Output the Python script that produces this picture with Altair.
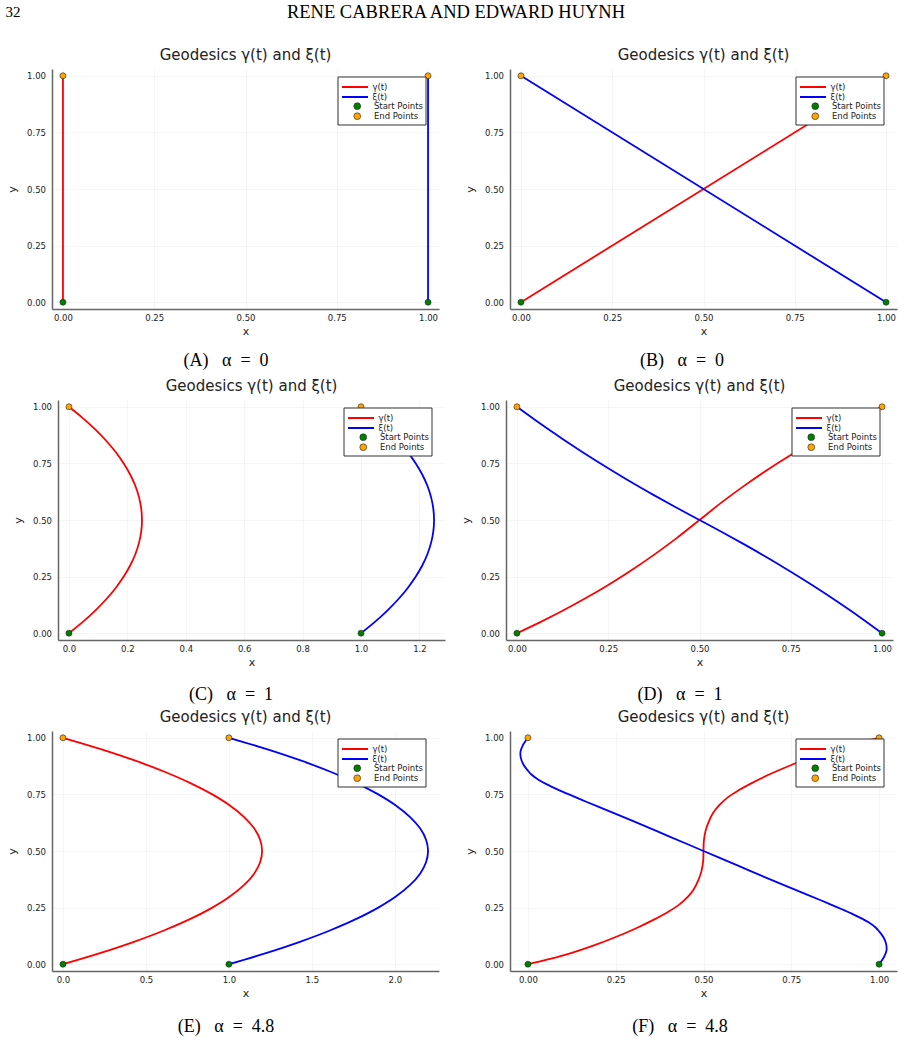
import altair as alt
import pandas as pd

# ---------------- text ----------------
HEADER_PAGE = "32"
HEADER_TITLE = "RENE CABRERA AND EDWARD HUYNH"
PANEL_TITLE = "Geodesics γ(t) and ξ(t)"
LINE_NAMES = ["γ(t)", "ξ(t)"]
LINE_COLORS = ["#ff0000", "#0000ff"]
POINT_NAMES = ["Start Points", "End Points"]
POINT_COLORS = ["#008000", "#ffa500"]
CAPTIONS = ["(A)\u2002\u2005α\u2002=\u20020", "(B)\u2002\u2005α\u2002=\u20020",
            "(C)\u2002\u2005α\u2002=\u20021", "(D)\u2002\u2005α\u2002=\u20021",
            "(E)\u2002\u2005α\u2002=\u20024.8", "(F)\u2002\u2005α\u2002=\u20024.8"]

# ---------------- ticks ----------------
Y_TICKS = [0.0, 0.25, 0.5, 0.75, 1.0]
X_TICKS_UNIT = [0.0, 0.25, 0.5, 0.75, 1.0]
X_TICKS_C = [0.0, 0.2, 0.4, 0.6, 0.8, 1.0, 1.2]
X_TICKS_E = [0.0, 0.5, 1.0, 1.5, 2.0]

# ---------------- panel A ----------------
a_gamma_x = [0.0, 0.0]
a_gamma_y = [0.0, 1.0]
a_xi_x = [1.0, 1.0]
a_xi_y = [0.0, 1.0]

# ---------------- panel B ----------------
b_gamma_x = [0.0, 1.0]
b_gamma_y = [0.0, 1.0]
b_xi_x = [1.0, 0.0]
b_xi_y = [0.0, 1.0]

# ---------------- panel C ----------------
c_t = [0.0, 0.05, 0.1, 0.15, 0.2, 0.25, 0.3, 0.35, 0.4, 0.45, 0.5,
       0.55, 0.6, 0.65, 0.7, 0.75, 0.8, 0.85, 0.9, 0.95, 1.0]
c_gamma_x = [0.0, 0.0475, 0.09, 0.1275, 0.16, 0.1875, 0.21, 0.2275, 0.24, 0.2475, 0.25,
             0.2475, 0.24, 0.2275, 0.21, 0.1875, 0.16, 0.1275, 0.09, 0.0475, 0.0]
c_xi_x = [1.0, 1.0475, 1.09, 1.1275, 1.16, 1.1875, 1.21, 1.2275, 1.24, 1.2475, 1.25,
          1.2475, 1.24, 1.2275, 1.21, 1.1875, 1.16, 1.1275, 1.09, 1.0475, 1.0]

# ---------------- panel D ----------------
d_gamma_x = [0.0, 0.0625, 0.125, 0.1875, 0.25, 0.3125, 0.375, 0.4375, 0.5,
             0.5625, 0.625, 0.6875, 0.75, 0.8125, 0.875, 0.9375, 1.0]
d_gamma_y = [0.0, 0.048, 0.099, 0.154, 0.213, 0.277, 0.346, 0.42, 0.5,
             0.58, 0.654, 0.723, 0.787, 0.846, 0.901, 0.952, 1.0]
d_xi_x = [1.0, 0.9375, 0.875, 0.8125, 0.75, 0.6875, 0.625, 0.5625, 0.5,
          0.4375, 0.375, 0.3125, 0.25, 0.1875, 0.125, 0.0625, 0.0]
d_xi_y = [0.0, 0.073, 0.142, 0.208, 0.271, 0.332, 0.39, 0.446, 0.5,
          0.554, 0.61, 0.668, 0.729, 0.792, 0.858, 0.927, 1.0]

# ---------------- panel E ----------------
e_t = [0.0, 0.05, 0.1, 0.15, 0.2, 0.25, 0.3, 0.35, 0.4, 0.45, 0.5,
       0.55, 0.6, 0.65, 0.7, 0.75, 0.8, 0.85, 0.9, 0.95, 1.0]
e_gamma_x = [0.0, 0.228, 0.432, 0.612, 0.768, 0.9, 1.008, 1.092, 1.152, 1.188, 1.2,
             1.188, 1.152, 1.092, 1.008, 0.9, 0.768, 0.612, 0.432, 0.228, 0.0]
e_xi_x = [1.0, 1.228, 1.432, 1.612, 1.768, 1.9, 2.008, 2.092, 2.152, 2.188, 2.2,
          2.188, 2.152, 2.092, 2.008, 1.9, 1.768, 1.612, 1.432, 1.228, 1.0]

# ---------------- panel F ----------------
f_gamma_x = [0.0, 0.06, 0.125, 0.19, 0.25, 0.31, 0.36, 0.40, 0.43, 0.455, 0.472, 0.485, 0.494, 0.499, 0.5,
             0.501, 0.506, 0.515, 0.528, 0.545, 0.57, 0.6, 0.64, 0.69, 0.75, 0.81, 0.875, 0.94, 1.0]
f_gamma_y = [0.0, 0.022, 0.05, 0.084, 0.12, 0.16, 0.198, 0.232, 0.262, 0.297, 0.33, 0.37, 0.41, 0.455, 0.5,
             0.545, 0.59, 0.63, 0.67, 0.703, 0.738, 0.768, 0.802, 0.84, 0.88, 0.916, 0.95, 0.978, 1.0]
f_xi_x = [1.0, 1.007, 1.015, 1.021, 1.02, 1.012, 1.0, 0.99, 0.97, 0.94, 0.9, 0.85, 0.8, 0.7, 0.6, 0.5,
          0.4, 0.3, 0.2, 0.15, 0.1, 0.06, 0.03, 0.01, 0.0, -0.012, -0.02, -0.021, -0.015, -0.007, 0.0]
f_xi_y = [0.0, 0.015, 0.035, 0.06, 0.09, 0.12, 0.145, 0.162, 0.185, 0.21, 0.239, 0.272, 0.304, 0.368, 0.434, 0.5,
          0.566, 0.632, 0.696, 0.728, 0.761, 0.79, 0.815, 0.838, 0.855, 0.88, 0.91, 0.94, 0.965, 0.985, 1.0]

# ---------------- styling ----------------
PW, PH = 387, 240
FONT = "DejaVu Sans"
SERIF = "Liberation Serif"
BOX_X, BOX_Y, BOX_W, BOX_H = 286, 8, 88, 48


def line_legend():
    return alt.Legend(
        title=None, orient="none", legendX=BOX_X + 3, legendY=BOX_Y + 5.2, direction="vertical",
        symbolType="stroke", symbolSize=676, symbolStrokeWidth=2, symbolOffset=0,
        labelFont=FONT, labelFontSize=8.5, labelColor="#222", labelOffset=3.4, labelLimit=300,
        clipHeight=9.6, rowPadding=0, padding=0)


def point_legend():
    return alt.Legend(
        title=None, orient="none", legendX=BOX_X + 3, legendY=BOX_Y + 5.2 + 19.2, direction="vertical",
        symbolType="circle", symbolSize=46, symbolStrokeWidth=0.6, symbolStrokeColor="#222",
        symbolOffset=12, symbolOpacity=1,
        labelFont=FONT, labelFontSize=8.5, labelColor="#222", labelOffset=12.4, labelLimit=300,
        clipHeight=9.6, rowPadding=0, padding=0)


def panel(gx, gy, xx, xy, xdom, xticks, xfmt, caption, cap_x, cap_dy):
    lines = pd.DataFrame({
        "x": list(gx) + list(xx),
        "y": list(gy) + list(xy),
        "name": [LINE_NAMES[0]] * len(gx) + [LINE_NAMES[1]] * len(xx),
        "i": list(range(len(gx))) + list(range(len(xx))),
    })
    pts = pd.DataFrame({
        "x": [gx[0], xx[0], gx[-1], xx[-1]],
        "y": [gy[0], xy[0], gy[-1], xy[-1]],
        "kind": [POINT_NAMES[0], POINT_NAMES[0], POINT_NAMES[1], POINT_NAMES[1]],
    })
    xenc = alt.X("x:Q", scale=alt.Scale(domain=xdom, nice=False, zero=False),
                 axis=alt.Axis(values=xticks, format=xfmt, title="x", labelPadding=4,
                               titlePadding=4, labelFlush=False))
    yenc = alt.Y("y:Q", scale=alt.Scale(domain=[-0.03, 1.03], nice=False, zero=False),
                 axis=alt.Axis(values=Y_TICKS, format=".2f", title="y", labelPadding=6.5,
                               titlePadding=9, labelFlush=False))
    line = alt.Chart(lines).mark_line(strokeWidth=1.8, interpolate="catmull-rom").encode(
        x=xenc, y=yenc,
        stroke=alt.Stroke("name:N", scale=alt.Scale(domain=LINE_NAMES, range=LINE_COLORS),
                          legend=line_legend()),
        order="i:Q")
    dots = alt.Chart(pts).mark_circle(size=36, opacity=1, stroke="#222", strokeWidth=0.6).encode(
        x="x:Q", y="y:Q",
        fill=alt.Fill("kind:N", scale=alt.Scale(domain=POINT_NAMES, range=POINT_COLORS),
                      legend=point_legend()))
    box = alt.Chart(pd.DataFrame({"a": [0]})).mark_rect(
        fill="white", stroke="#333", strokeWidth=1).encode(
        x=alt.value(BOX_X), x2=alt.value(BOX_X + BOX_W), y=alt.value(BOX_Y), y2=alt.value(BOX_Y + BOX_H))
    cap = alt.Chart(pd.DataFrame({"t": [caption]})).mark_text(
        font=SERIF, fontSize=18, color="#000", align="center", baseline="middle").encode(
        text="t:N", x=alt.value(cap_x), y=alt.value(PH + cap_dy))
    anchor = alt.Chart(pd.DataFrame({"a": [0]})).mark_rule(strokeOpacity=0).encode(
        x=alt.value(0), x2=alt.value(10), y=alt.value(PH + 66))
    return alt.layer(line, dots, box, cap, anchor).resolve_scale(
        stroke="independent", fill="independent").properties(
        width=PW, height=PH,
        title=alt.TitleParams(PANEL_TITLE, font=FONT, fontSize=15, fontWeight="normal",
                              color="#222", offset=-9, baseline="bottom", anchor="middle"))


def spacer(w):
    return alt.Chart(pd.DataFrame({"a": [0]})).mark_rule(strokeOpacity=0).encode(
        x=alt.value(0), x2=alt.value(w), y=alt.value(0)).properties(width=w, height=1)


def indep(c):
    return c.resolve_scale(stroke="independent", fill="independent").resolve_legend(
        stroke="independent", fill="independent")


UNIT = [-0.03, 1.03]
pA = panel(a_gamma_x, a_gamma_y, a_xi_x, a_xi_y, UNIT, X_TICKS_UNIT, ".2f", CAPTIONS[0], 174, 52)
pB = panel(b_gamma_x, b_gamma_y, b_xi_x, b_xi_y, UNIT, X_TICKS_UNIT, ".2f", CAPTIONS[1], 172, 52)
pC = panel(c_gamma_x, c_t, c_xi_x, c_t, [-0.0375, 1.2875], X_TICKS_C, ".1f", CAPTIONS[2], 173, 55)
pD = panel(d_gamma_x, d_gamma_y, d_xi_x, d_xi_y, UNIT, X_TICKS_UNIT, ".2f", CAPTIONS[3], 174, 55)
pE = panel(e_gamma_x, e_t, e_xi_x, e_t, [-0.066, 2.266], X_TICKS_E, ".1f", CAPTIONS[4], 174, 56)
pF = panel(f_gamma_x, f_gamma_y, f_xi_x, f_xi_y, [-0.051, 1.051], X_TICKS_UNIT, ".2f", CAPTIONS[5], 170, 56)

header = alt.layer(
    alt.Chart(pd.DataFrame({"t": [HEADER_PAGE]})).mark_text(
        font=SERIF, fontSize=15, color="#000", align="center", baseline="middle").encode(
        text="t:N", x=alt.value(13), y=alt.value(12)),
    alt.Chart(pd.DataFrame({"t": [HEADER_TITLE]})).mark_text(
        font=SERIF, fontSize=18.5, color="#000", align="center", baseline="middle").encode(
        text="t:N", x=alt.value(456), y=alt.value(12)),
).properties(width=900, height=44)

L = 45
row1 = indep(alt.hconcat(spacer(51 - L), pA, spacer(70 - L), pB, spacing=0))
row2 = indep(alt.hconcat(spacer(57 - L), pC, spacer(60 - L), pD, spacing=0))
row3 = indep(alt.hconcat(spacer(51 - L), pE, spacer(70 - L), pF, spacing=0))

chart = indep(alt.vconcat(header, row1, row2, row3, spacing=4)).properties(
    padding=0, background="white").configure_view(strokeWidth=0).configure_axis(
    labelFont=FONT, labelFontSize=8.5, labelColor="#222", titleFont=FONT, titleFontSize=11,
    titleFontWeight="normal", titleColor="#222", domainColor="#666", domainWidth=1.5,
    gridColor="#000", gridOpacity=0.07, gridWidth=0.5, ticks=False, tickSize=0)

chart.save("out.html", embed_options={"renderer": "svg", "actions": False})
